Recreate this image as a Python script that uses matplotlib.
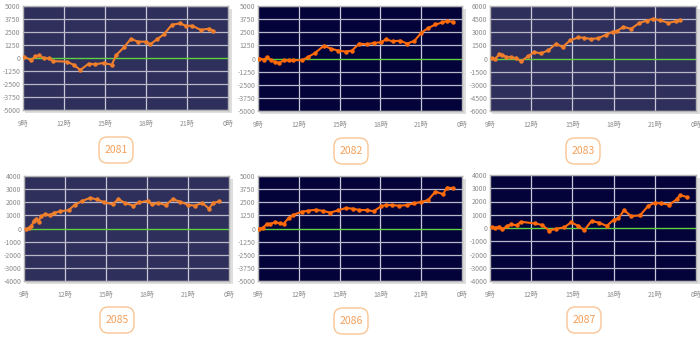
import matplotlib
matplotlib.use("Agg")
import matplotlib.pyplot as plt
from matplotlib.patches import FancyBboxPatch, Rectangle

plt.rcParams['font.family'] = ['Noto Sans CJK JP', 'DejaVu Sans']

# ---- data (hour of day, value) ----
names = ["2081", "2082", "2083", "2085", "2086", "2087"]

h1 = [9.1, 9.6, 9.9, 10.2, 10.5, 10.9, 11.2, 12.2, 12.7, 13.2, 13.8, 14.3, 14.9, 15.5, 15.8,
      16.4, 16.9, 17.4, 18.0, 18.3, 18.8, 19.3, 19.9, 20.5, 20.9, 21.4, 22.0, 22.6, 22.9]
v1 = [100, -200, 150, 250, 0, -30, -300, -350, -650, -1150, -550, -600, -480, -650, 250,
      1050, 1850, 1570, 1570, 1300, 1800, 2270, 3200, 3330, 3100, 3100, 2700, 2820, 2630]

h2 = [9.1, 9.45, 9.65, 9.95, 10.27, 10.56, 10.9, 11.25, 11.6, 12.25, 12.7, 13.2, 13.85, 14.35,
      14.9, 15.45, 15.9, 16.45, 17.0, 17.5, 18.05, 18.4, 18.9, 19.45, 19.95, 20.5, 21.0, 21.5,
      22.05, 22.55, 22.9, 23.35]
v2 = [0, -100, 130, -150, -350, -400, -190, -190, -160, -160, 160, 530, 1230, 940,
      750, 660, 750, 1420, 1350, 1480, 1540, 1820, 1640, 1700, 1420, 1670, 2450, 2890,
      3240, 3430, 3590, 3490]

h3 = [9.12, 9.34, 9.68, 9.9, 10.2, 10.53, 10.9, 11.26, 11.8, 12.2, 12.71, 13.25, 13.8, 14.29,
      14.83, 15.43, 15.87, 16.35, 16.89, 17.45, 17.93, 18.27, 18.71, 19.27, 19.85, 20.4, 20.9,
      21.38, 21.99, 22.52, 22.83]
v3 = [20, -90, 470, 400, 170, 130, 60, -320, 280, 740, 590, 930, 1690, 1310,
      2070, 2410, 2370, 2220, 2330, 2710, 3050, 3160, 3620, 3390, 4040, 4340, 4530,
      4380, 4070, 4260, 4380]

h4 = [9.15, 9.34, 9.54, 9.71, 9.88, 10.07, 10.24, 10.56, 10.92, 11.2, 11.65, 12.26, 12.7, 13.24,
      13.85, 14.33, 14.87, 15.48, 15.91, 16.36, 17.0, 17.45, 18.06, 18.35, 18.84, 19.37, 19.88,
      20.42, 20.98, 21.5, 22.05, 22.53, 22.85, 23.3]
v4 = [-75, 25, 175, 550, 730, 530, 930, 1100, 1030, 1200, 1310, 1400, 1790, 2090,
      2340, 2210, 2010, 1840, 2240, 1960, 1740, 1990, 2110, 1840, 1940, 1790, 2240,
      2040, 1810, 1740, 1960, 1510, 1960, 2060]

h5 = [9.1, 9.34, 9.66, 9.9, 10.27, 10.59, 10.88, 11.25, 11.6, 12.22, 12.7, 13.27, 13.8, 14.3,
      14.9, 15.45, 15.96, 16.45, 17.0, 17.5, 18.05, 18.4, 18.87, 19.4, 19.92, 20.46, 20.97,
      21.5, 22.05, 22.6, 22.9, 23.35]
v5 = [0, 60, 440, 440, 600, 500, 440, 1000, 1290, 1600, 1700, 1790, 1670, 1510,
      1730, 1950, 1890, 1760, 1760, 1640, 2110, 2260, 2230, 2170, 2230, 2390, 2520,
      2700, 3520, 3270, 3900, 3840]

h6 = [9.12, 9.36, 9.68, 9.9, 10.21, 10.53, 10.94, 11.26, 12.28, 12.77, 13.32, 13.81, 14.39,
      14.9, 15.43, 15.87, 16.4, 16.96, 17.5, 18.03, 18.35, 18.76, 19.27, 19.92, 20.53, 21.0,
      21.43, 22.06, 22.59, 22.84, 23.32]
v6 = [40, 10, 110, -110, 140, 270, 210, 470, 340, 240, -190, -60, 40,
      420, 160, -160, 540, 390, 160, 640, 720, 1350, 900, 950, 1680, 1910,
      1860, 1760, 2160, 2490, 2340]

x_ticks = [9, 12, 15, 18, 21, 24]
x_labels = ["9時", "12時", "15時", "18時", "21時", "0時"]
y_lims = [5000, 5000, 6000, 4000, 5000, 4000]
y_steps = [1250, 1250, 1500, 1000, 1250, 1000]

hours = [h1, h2, h3, h4, h5, h6]
values = [v1, v2, v3, v4, v5, v6]

# ---- layout (pixels: left, right, top, bottom) ----
W, H = 700, 339
boxes = [(23, 228, 6, 110), (258, 462, 6, 111), (490, 696, 6, 111),
         (24, 229, 176, 281), (258, 462, 176, 281), (490, 696, 175, 281)]
label_centers = [(116, 150), (351, 151), (583, 151), (117, 320), (351, 321), (584, 320)]
bgs = ['#2f2f5c', '#03033a', '#2f2f5c', '#2f2f5c', '#03033a', '#03033a']
lcs = ['#f07f2c', '#ff6a0a', '#f07f2c', '#f07f2c', '#ff6a0a', '#ff6a0a']

fig = plt.figure(figsize=(W / 100, H / 100), dpi=100)
fig.patch.set_facecolor('white')

for i in range(6):
    l, r, t, b = boxes[i]
    # shadow
    fig.patches.append(Rectangle(((l + 2) / W, (H - b - 3) / H), (r - l + 2) / W, (b - t) / H,
                                 transform=fig.transFigure, fc='#dedede', ec='none', zorder=-5))
    ax = fig.add_axes([l / W, (H - b) / H, (r - l) / W, (b - t) / H])
    ax.set_zorder(2)
    ax.set_facecolor(bgs[i])
    lim = y_lims[i]
    st = y_steps[i]
    yt = [k * st for k in range(-int(lim / st), int(lim / st) + 1)]
    ax.set_xlim(9, 24)
    ax.set_ylim(-lim, lim)
    ax.set_xticks(x_ticks)
    ax.set_xticklabels(x_labels)
    ax.set_yticks(yt)
    ax.set_yticklabels([str(v) for v in yt])
    ax.tick_params(axis='both', length=0, labelsize=5, colors='#8c8c8c', pad=2)
    ax.tick_params(axis='x', pad=7)
    for v in x_ticks[1:-1]:
        ax.axvline(v, color='#c8c8d8', lw=0.9, zorder=1)
    for v in yt:
        if v != 0:
            ax.axhline(v, color='#b8b8c8', lw=0.9, zorder=1)
    ax.axhline(0, color='#5fd040', lw=1.0, zorder=2)
    ax.plot(hours[i], values[i], color=lcs[i], lw=1.5, marker='o', ms=2.2, zorder=3)
    for s in ax.spines.values():
        s.set_color('#b4b4b4')
        s.set_linewidth(1.0)

    cx, cy = label_centers[i]
    bw, bh = 34, 26
    fig.patches.append(FancyBboxPatch(((cx - bw / 2) / W, (H - cy - bh / 2) / H), bw / W, bh / H,
                                      boxstyle='round,pad=0,rounding_size=0.012',
                                      transform=fig.transFigure, fc='white', ec='#f9c594',
                                      lw=1.0, mutation_aspect=W / H))
    fig.text(cx / W, (H - cy) / H, names[i], ha='center', va='center', fontsize=7.5,
             color='#f5a05a')

fig.savefig('out.png', dpi=100)
